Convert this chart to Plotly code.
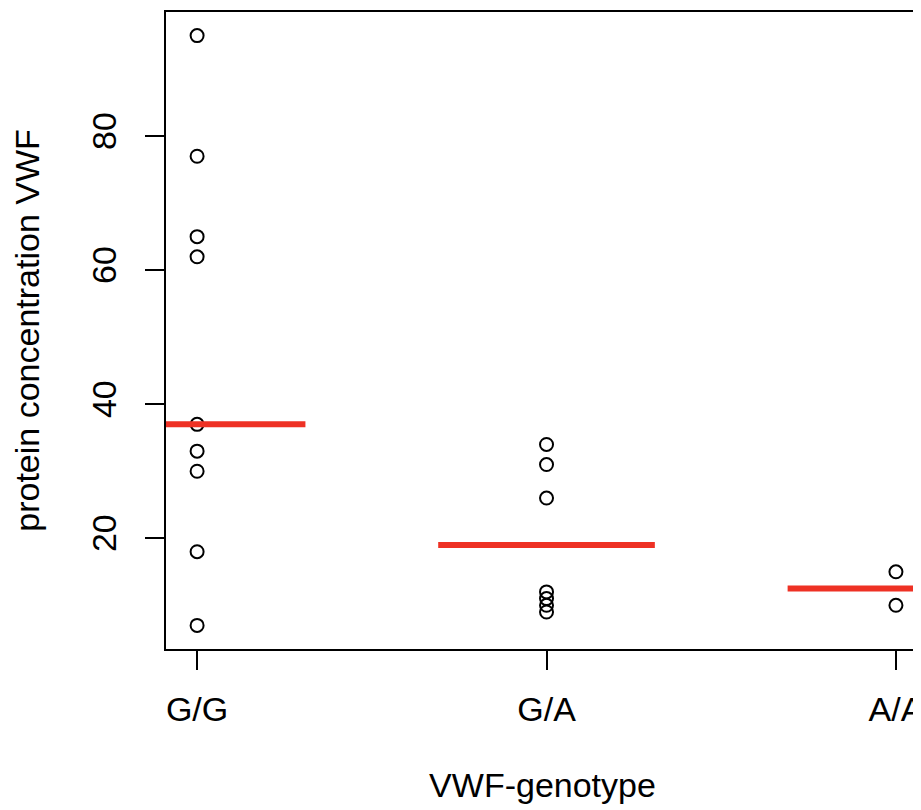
import plotly.graph_objects as go

genotypes = ["G/G", "G/A", "A/A"]
gg_values = [95, 77, 65, 62, 37, 33, 30, 18, 7]
ga_values = [34, 31, 26, 12, 11, 10, 9]
aa_values = [15, 10]
medians = [37, 19, 12.5]
y_ticks = [20, 40, 60, 80]

groups = [gg_values, ga_values, aa_values]
FONT = "Liberation Sans, Arial, sans-serif"
fig = go.Figure()

for i, vals in enumerate(groups):
    fig.add_trace(go.Scatter(
        x=[i + 1] * len(vals), y=vals, mode="markers",
        marker=dict(symbol="circle-open", size=13, color="black",
                    line=dict(width=2, color="black")),
        showlegend=False, cliponaxis=False))

for i, m in enumerate(medians):
    fig.add_trace(go.Scatter(
        x=[i + 1 - 0.31, i + 1 + 0.31], y=[m, m], mode="lines",
        line=dict(color="#EE3124", width=6), showlegend=False))

# page body has an 8px margin, so the figure is 8px smaller than the window
fig.update_layout(
    width=913, height=802,
    margin=dict(l=158, r=2, t=4, b=161, autoexpand=False),
    paper_bgcolor="white", plot_bgcolor="white",
    font=dict(family=FONT, size=34, color="black"),
    xaxis=dict(range=[0.911, 3.066], tickvals=[1, 2, 3], ticktext=genotypes,
               showgrid=False, zeroline=False, showline=True, mirror=True,
               linecolor="black", linewidth=2, ticks="outside", ticklen=19,
               tickwidth=2, tickcolor="black", ticklabelstandoff=10,
               ticklabeloverflow="allow", automargin=False,
               title=dict(text="VWF-genotype", standoff=46,
                          font=dict(size=34))),
    yaxis=dict(range=[3.48, 98.52], tickvals=y_ticks,
               showgrid=False, zeroline=False, showline=True, mirror=True,
               linecolor="black", linewidth=2, ticks="outside", ticklen=19,
               tickwidth=2, tickcolor="black", tickangle=-90,
               ticklabelstandoff=15, automargin=False,
               title=dict(text="protein concentration VWF", standoff=36,
                          font=dict(size=34))),
)

fig.write_html("out.html")
